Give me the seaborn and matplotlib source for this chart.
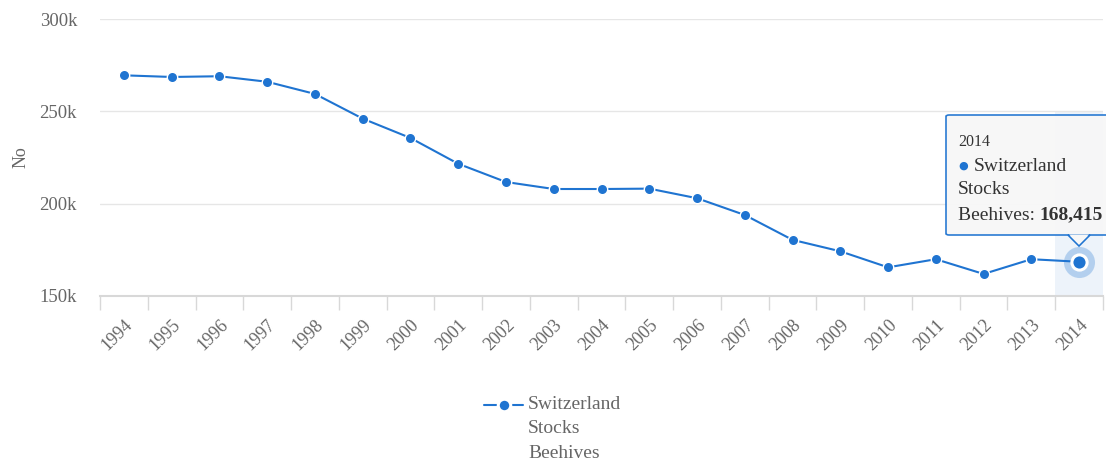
import matplotlib
matplotlib.use("Agg")
import matplotlib.pyplot as plt
import seaborn as sns
import pandas as pd
from matplotlib.patches import FancyBboxPatch, Polygon
from matplotlib.lines import Line2D

years = [1994, 1995, 1996, 1997, 1998, 1999, 2000, 2001, 2002, 2003, 2004,
         2005, 2006, 2007, 2008, 2009, 2010, 2011, 2012, 2013, 2014]
beehives = [269600, 268700, 269100, 266100, 259500, 246100, 235600, 221600,
            211700, 207900, 207900, 208100, 202900, 193800, 180300, 174100,
            165400, 169800, 161800, 169800, 168415]
y_ticks = [150000, 200000, 250000, 300000]
y_tick_labels = ["150k", "200k", "250k", "300k"]
series_name = "Switzerland"
series_lines = ["Stocks", "Beehives"]
y_label = "No"

sns.set_theme(style="white")
plt.rcParams['font.family'] = ['Liberation Serif', 'DejaVu Serif']

W, H = 1106, 461
fig = plt.figure(figsize=(W / 100, H / 100), dpi=100)
ax_bottom, ax_top = 295.7, 19.3
ax = fig.add_axes([100 / W, 1 - ax_bottom / H, (1103 - 100) / W, (ax_bottom - ax_top) / H])

color = "#1f74d1"
df = pd.DataFrame({"year": years, "value": beehives})

# highlight band for hovered category
ax.axvspan(years[-1] - 0.5, years[-1] + 0.5, ymin=0, ymax=(ax_bottom - 111) / (ax_bottom - ax_top),
           color="#e6eef8", alpha=0.7, lw=0, zorder=0)

sns.lineplot(data=df, x="year", y="value", ax=ax, color=color, lw=1.5,
             marker="o", markersize=7.5, markeredgecolor="white", markeredgewidth=1,
             zorder=3, legend=False)

# hovered point
ax.scatter([years[-1]], [beehives[-1]], s=500, color=color, alpha=0.28, lw=0, zorder=4)
ax.scatter([years[-1]], [beehives[-1]], s=120, color=color, edgecolor="white", lw=2.2, zorder=5)

ax.set_xlim(years[0] - 0.5, years[-1] + 0.5)
ax.set_ylim(150000, 300000)
ax.set_yticks(y_ticks)
ax.set_yticklabels(y_tick_labels, fontsize=13.5, color="#666666")
ax.set_xticks(years)
ax.set_xticklabels([str(y) for y in years], rotation=45, ha="right",
                   rotation_mode="anchor", fontsize=13, color="#666666")
ax.set_xticks([y - 0.5 for y in years] + [years[-1] + 0.5], minor=True)
ax.tick_params(axis="x", which="major", length=0, pad=15)
ax.tick_params(axis="x", which="minor", length=10, width=1, color="#d8d8d8", direction="out", bottom=True)
ax.tick_params(axis="y", length=0, pad=16.5)
ax.grid(axis="y", color="#e6e6e6", lw=1)
ax.grid(axis="x", visible=False)
for s in ["top", "right", "left"]:
    ax.spines[s].set_visible(False)
ax.spines["bottom"].set_color("#d8d8d8")
ax.spines["bottom"].set_linewidth(1.5)
ax.set_xlabel("")
ax.set_ylabel(y_label, fontsize=13, color="#666666")
ax.yaxis.set_label_coords((30 - 100) / 1003, 0.5)

# tooltip
tx0, ty0, tx1, ty1 = 946, 115, 1112, 235
box = FancyBboxPatch((tx0 / W, 1 - ty1 / H), (tx1 - tx0) / W, (ty1 - ty0) / H,
                     boxstyle="round,pad=0,rounding_size=0.003", transform=fig.transFigure,
                     facecolor="#f7f7f7", edgecolor=color, lw=1.2, alpha=0.95, zorder=10)
fig.patches.append(box)
tri = Polygon([(1068 / W, 1 - ty1 / H), (1090 / W, 1 - ty1 / H), (1079 / W, 1 - 246 / H)],
              closed=True, transform=fig.transFigure, facecolor="#f7f7f7",
              edgecolor=color, lw=1.2, zorder=10)
fig.patches.append(tri)
cover = Polygon([(1069 / W, 1 - (ty1 - 0.6) / H), (1089 / W, 1 - (ty1 - 0.6) / H), (1079 / W, 1 - 244.5 / H)],
                closed=True, transform=fig.transFigure, facecolor="#f7f7f7", lw=0, zorder=11)
fig.patches.append(cover)
fig.text(958 / W, 1 - 142 / H, str(years[-1]), fontsize=11.5, color="#333333", va="center", zorder=12)
fig.text(958 / W, 1 - 166 / H, "\u25CF", fontsize=8, color=color, va="center", zorder=12,
         family=['DejaVu Sans'])
fig.text(974 / W, 1 - 166 / H, series_name, fontsize=14, color="#333333", va="center", zorder=12)
fig.text(958 / W, 1 - 190 / H, series_lines[0], fontsize=14, color="#333333", va="center", zorder=12)
t = fig.text(958 / W, 1 - 215 / H, series_lines[1] + ": ", fontsize=14, color="#333333", va="center", zorder=12)
fig.canvas.draw()
bb = t.get_window_extent()
fig.text(bb.x1 / W, 1 - 215 / H, f"{beehives[-1]:,}", fontsize=14, color="#333333",
         fontweight="bold", va="center", zorder=12)

# legend
fig.lines.append(Line2D([484 / W, 523 / W], [1 - 405 / H] * 2, transform=fig.transFigure,
                        color=color, lw=1.5))
fig.lines.append(Line2D([503.5 / W], [1 - 405 / H], transform=fig.transFigure,
                        color=color, marker="o", markersize=9, markeredgecolor="white",
                        markeredgewidth=2.2, lw=0))
for i, txt in enumerate([series_name] + series_lines):
    fig.text(528 / W, 1 - (404 + 24.5 * i) / H, txt, fontsize=14, color="#666666", va="center")

fig.savefig("out.png", dpi=100)
